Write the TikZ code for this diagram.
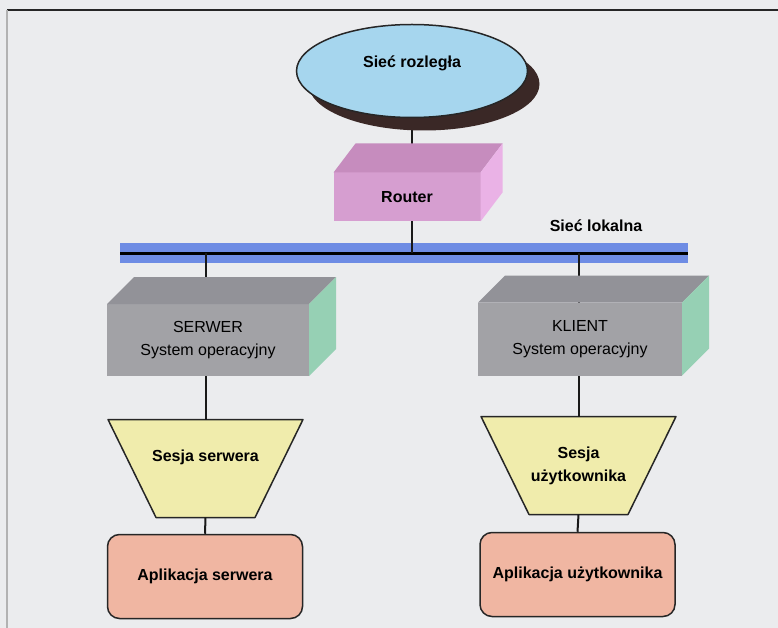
\documentclass[tikz,border=0pt]{standalone}
\usepackage{fontspec}
\setmainfont{Liberation Sans}
\usepackage{xcolor}
\usepackage{tikz}
\usetikzlibrary{shapes.geometric, shadows}

\definecolor{tlo}{RGB}{235,236,238}
\definecolor{wanblue}{RGB}{166,214,238}
\definecolor{cien}{RGB}{58,40,38}
\definecolor{rfront}{RGB}{214,158,208}
\definecolor{rtop}{RGB}{198,140,190}
\definecolor{rside}{RGB}{234,178,230}
\definecolor{gfront}{RGB}{162,162,166}
\definecolor{gtop}{RGB}{146,146,152}
\definecolor{gside}{RGB}{150,208,180}
\definecolor{sesja}{RGB}{240,236,172}
\definecolor{aplik}{RGB}{240,182,162}
\definecolor{lan}{RGB}{110,140,228}

\pgfdeclarelayer{back}
\pgfdeclarelayer{background}
\pgfsetlayers{back,background,main}

\begin{document}
\begin{tikzpicture}[x=1pt, y=-1pt, font=\fontsize{16}{23}\selectfont,
  boldtxt/.style={font=\fontsize{16}{23}\selectfont\bfseries},
  every label/.append style={boldtxt},
  front/.style={rectangle, inner sep=0pt, outer sep=0pt, align=center},
  sesjabox/.style={rectangle, minimum width=195, minimum height=98, inner sep=0pt, outer sep=0pt,
    align=center, boldtxt},
  sesjafill/.style={fill=sesja, draw=black!85, line width=1.5pt, line join=round},
  aplikbox/.style={rectangle, rounded corners=12, minimum width=195, minimum height=84,
    fill=aplik, draw=black!85, line width=1.5pt, boldtxt},
  link/.style={draw=black!90, line width=2pt}]

\begin{pgfonlayer}{back}
\fill[tlo] (0,0) rectangle (778,628);
\end{pgfonlayer}
\useasboundingbox (0,0) rectangle (778,628);
\draw[black!85, line width=1.5pt] (7,10) -- (778,10);
\draw[black!30, line width=2pt] (7,10) -- (7,628);

% siec rozlegla
\node[ellipse, minimum width=231, minimum height=93, fill=wanblue, draw=black!85, line width=1.5pt,
  drop shadow={shadow xshift=12pt, shadow yshift=-13pt, fill=cien, opacity=1},
  label={[yshift=8]center:Sieć rozległa}] (wan) at (412,71) {};

% router
\node[front, fill=rfront, minimum width=147, minimum height=49, boldtxt] (router) at (407,197) {Router};
\fill[rtop] (router.north west) -- ++(22,-29) -- ([shift={(22,-29)}]router.north east) -- (router.north east) -- cycle;
\fill[rside] (router.north east) -- ++(22,-29) -- ([shift={(22,-29)}]router.south east) -- (router.south east) -- cycle;

% siec lokalna
\begin{pgfonlayer}{back}
\node[rectangle, fill=lan, minimum width=568, minimum height=20, inner sep=0pt, outer sep=0pt] (lan) at (404,253) {};
\draw[line width=3pt] (lan.west) -- (lan.east);
\end{pgfonlayer}
\node[boldtxt] (lanlbl) at (596,226) {Sieć lokalna};

% serwer i klient
\node[front, fill=gfront, minimum width=202, minimum height=72] (srv) at (208,340) {SERWER\\System operacyjny};
\node[front, fill=gfront, minimum width=204, minimum height=73] (kli) at (580,339) {KLIENT\\System operacyjny};
\foreach \n in {srv, kli} {
  \fill[gtop] (\n.north west) -- ++(27,-27) -- ([shift={(27,-27)}]\n.north east) -- (\n.north east) -- cycle;
  \fill[gside] (\n.north east) -- ++(27,-27) -- ([shift={(27,-27)}]\n.south east) -- (\n.south east) -- cycle;
}

% sesje
\node[sesjabox] (sses) at (205.5,468.5) {\raisebox{26pt}{Sesja serwera}};
\node[sesjabox] (kses) at (578.5,465.5) {Sesja\\użytkownika};

% aplikacje
\node[aplikbox] (sapl) at (205,576.5) {Aplikacja serwera};
\node[aplikbox] (kapl) at (577.5,574.5) {Aplikacja użytkownika};

\begin{pgfonlayer}{background}
\foreach \n in {sses, kses}
  \draw[sesjafill] (\n.north west) -- (\n.north east) -- ([xshift=-48]\n.south east)
    -- ([xshift=48]\n.south west) -- cycle;
\draw[link] (wan.south) -- (wan.south |- router.north);
\draw[link] (wan.south |- router.south) -- (wan.south |- lan.center);
\draw[link] (sses.north |- lan.center) -- (sses.north |- srv.north);
\draw[link] (kses.north |- lan.center) -- (kses.north |- kli.north);
\draw[link] (sses.north |- srv.south) -- (sses.north);
\draw[link] (kses.north |- kli.south) -- (kses.north);
\draw[link] (sses.south) -- (sapl.north);
\draw[link] (kses.south) -- (kapl.north);
\end{pgfonlayer}
\end{tikzpicture}
\end{document}
